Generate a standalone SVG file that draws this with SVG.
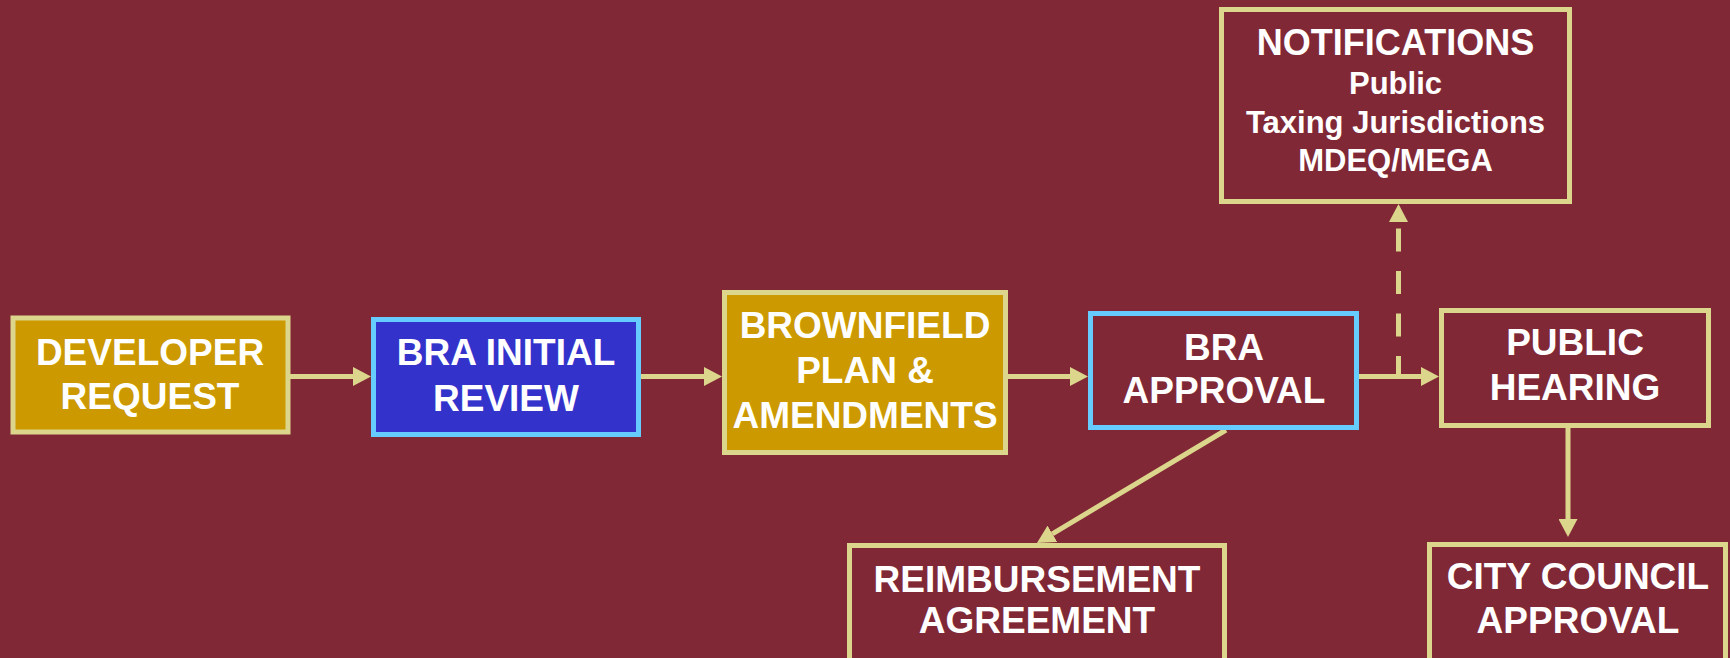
<svg xmlns="http://www.w3.org/2000/svg" width="1730" height="658" viewBox="0 0 1730 658">
  <style>
    .box { stroke-width: 5; }
    .gold { fill: #cc9900; stroke: #dcd68c; }
    .blue { fill: #3333cc; stroke: #66ccff; }
    .plain { fill: #802836; stroke: #dcd68c; }
    .plainblue { fill: #802836; stroke: #66ccff; }
    .lbl { font-family: "Liberation Sans", Arial, sans-serif; font-weight: bold; fill: #ffffff; text-anchor: middle; }
    .big { font-size: 37px; }
    .title { font-size: 36px; }
    .sub { font-size: 31px; }
    .conn { stroke: #dcd68c; stroke-width: 5; fill: none; }
    .dash { stroke-dasharray: 23 19.5; }
  </style>
  <defs>
    <marker id="arrow" markerUnits="userSpaceOnUse" markerWidth="18" markerHeight="19" refX="0" refY="9.5" orient="auto">
      <path d="M0,0 L18,9.5 L0,19 Z" fill="#dcd68c"/>
    </marker>
  </defs>

  <rect x="0" y="0" width="1730" height="658" fill="#802836"/>

  <g id="connectors">
    <line class="conn" x1="290" y1="376.5" x2="353" y2="376.5" marker-end="url(#arrow)"/>
    <line class="conn" x1="641" y1="376.5" x2="704" y2="376.5" marker-end="url(#arrow)"/>
    <line class="conn" x1="1008" y1="376.5" x2="1070" y2="376.5" marker-end="url(#arrow)"/>
    <line class="conn" x1="1359" y1="376.5" x2="1421" y2="376.5" marker-end="url(#arrow)"/>
    <path class="conn dash" d="M1398.5,379 L1398.5,222" marker-end="url(#arrow)"/>
    <line class="conn" x1="1226" y1="430" x2="1052.4" y2="533.8" marker-end="url(#arrow)"/>
    <line class="conn" x1="1568" y1="428" x2="1568" y2="519" marker-end="url(#arrow)"/>
  </g>

  <g id="developer-request">
    <rect class="box gold" x="13" y="318" width="275" height="114"/>
    <text class="lbl big" x="150" y="365">DEVELOPER</text>
    <text class="lbl big" x="150" y="409">REQUEST</text>
  </g>

  <g id="bra-initial-review">
    <rect class="box blue" x="373.5" y="319.5" width="265" height="115"/>
    <text class="lbl big" x="506" y="365">BRA INITIAL</text>
    <text class="lbl big" x="506" y="411">REVIEW</text>
  </g>

  <g id="brownfield-plan">
    <rect class="box gold" x="724.5" y="292.5" width="281" height="160"/>
    <text class="lbl big" x="865" y="338">BROWNFIELD</text>
    <text class="lbl big" x="865" y="383">PLAN &amp;</text>
    <text class="lbl big" x="865" y="428">AMENDMENTS</text>
  </g>

  <g id="bra-approval">
    <rect class="box plainblue" x="1090.5" y="313.5" width="266" height="114"/>
    <text class="lbl big" x="1224" y="360">BRA</text>
    <text class="lbl big" x="1224" y="403">APPROVAL</text>
  </g>

  <g id="public-hearing">
    <rect class="box plain" x="1441.5" y="310.5" width="267" height="115"/>
    <text class="lbl big" x="1575" y="355">PUBLIC</text>
    <text class="lbl big" x="1575" y="400">HEARING</text>
  </g>

  <g id="notifications">
    <rect class="box plain" x="1221.5" y="9.5" width="348" height="192"/>
    <text class="lbl title" x="1395.5" y="55">NOTIFICATIONS</text>
    <text class="lbl sub" x="1395.5" y="94">Public</text>
    <text class="lbl sub" x="1395.5" y="133">Taxing Jurisdictions</text>
    <text class="lbl sub" x="1395.5" y="171">MDEQ/MEGA</text>
  </g>

  <!-- bottom row boxes run past the lower edge of the canvas -->
  <g id="reimbursement-agreement">
    <rect class="box plain" x="849.5" y="545.5" width="375" height="120"/>
    <text class="lbl big" x="1037" y="592">REIMBURSEMENT</text>
    <text class="lbl big" x="1037" y="633">AGREEMENT</text>
  </g>

  <g id="city-council-approval">
    <rect class="box plain" x="1429.5" y="544.5" width="296" height="120"/>
    <text class="lbl big" x="1578" y="589">CITY COUNCIL</text>
    <text class="lbl big" x="1578" y="633">APPROVAL</text>
  </g>
</svg>
